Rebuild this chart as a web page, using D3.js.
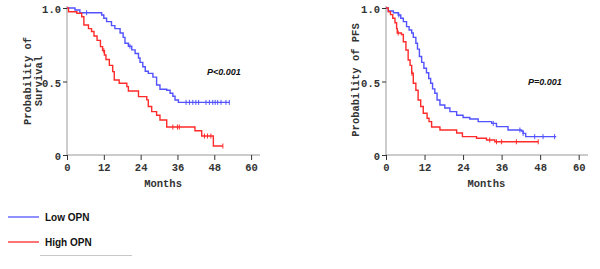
<!DOCTYPE html>
<html>
<head>
<meta charset="utf-8">
<script src="https://cdn.jsdelivr.net/npm/d3@7"></script>
<style>
  body { margin: 0; background: #fff; }
  .mono { font-family: "Liberation Mono", "DejaVu Sans Mono", monospace; font-weight: bold; font-size: 10.5px; fill: #333; }
</style>
</head>
<body>
<div id="chart"></div>
<script>
// Overall survival, low OPN (blue)
const osLowTime = [0, 2.6, 4.2, 11.3, 12.0, 12.9, 14.5, 15.6, 17.3, 18.3, 18.9, 20.0, 21.1, 22.2, 23.3, 23.8, 24.7, 25.5, 26.5, 28.0, 29.2, 30.3, 32.5, 33.6, 34.5, 35.2, 36.3, 52.9];
const osLowSurv = [1.0, 0.986, 0.968, 0.952, 0.93, 0.907, 0.88, 0.86, 0.83, 0.80, 0.76, 0.74, 0.715, 0.69, 0.66, 0.63, 0.60, 0.57, 0.555, 0.53, 0.476, 0.447, 0.44, 0.42, 0.40, 0.374, 0.358, 0.358];
const osLowCens = [6.4, 20.5, 38.8, 39.9, 41, 42, 42.9, 45.3, 46.4, 47.5, 48.3, 49.1, 50.2, 51.8, 52.9];

// Overall survival, high OPN (red)
const osHighTime = [0, 0.5, 3.2, 4.8, 5.5, 7.0, 8.0, 8.8, 9.8, 10.9, 11.6, 12.2, 12.7, 13.8, 14.9, 15.4, 17.0, 19.5, 20.0, 23.3, 26.0, 26.5, 27.6, 29.2, 30.3, 32.5, 41.7, 43.9, 47.7, 50.8];
const osHighSurv = [1.0, 0.975, 0.964, 0.94, 0.884, 0.86, 0.84, 0.81, 0.78, 0.737, 0.71, 0.68, 0.65, 0.61, 0.567, 0.51, 0.488, 0.465, 0.435, 0.397, 0.375, 0.33, 0.295, 0.27, 0.238, 0.19, 0.165, 0.129, 0.061, 0.061];
const osHighCens = [12.0, 34.5, 36.0, 36.6, 44.8, 45.8, 46.9, 50.8];

// Progression-free survival, low OPN (blue)
const pfsLowTime = [0, 0.7, 2.3, 3.8, 4.6, 5.4, 6.4, 7.2, 8.0, 8.5, 9.3, 9.8, 10.4, 11.1, 11.8, 12.6, 13.3, 13.9, 14.5, 15.2, 15.9, 16.8, 18.3, 19.9, 22.0, 24.0, 26.1, 28.7, 32.9, 34.4, 38.0, 42.2, 42.7, 43.5, 53.0];
const pfsLowSurv = [1.0, 0.98, 0.968, 0.952, 0.93, 0.907, 0.873, 0.85, 0.83, 0.80, 0.76, 0.72, 0.67, 0.63, 0.59, 0.56, 0.52, 0.488, 0.45, 0.42, 0.374, 0.34, 0.32, 0.295, 0.27, 0.255, 0.245, 0.227, 0.215, 0.193, 0.17, 0.163, 0.147, 0.125, 0.125];
const pfsLowCens = [4.0, 33.4, 41.7, 42.7, 46.3, 48.9, 52.5];

// Progression-free survival, high OPN (red)
const pfsHighTime = [0, 0.7, 1.4, 2.1, 2.8, 3.3, 3.5, 4.8, 5.4, 6.2, 6.9, 7.5, 8.0, 8.5, 9.3, 10.0, 10.8, 11.6, 12.8, 13.4, 14.2, 16.8, 22.0, 23.8, 28.2, 31.3, 33.9, 47.4];
const pfsHighSurv = [1.0, 0.975, 0.955, 0.93, 0.90, 0.86, 0.83, 0.82, 0.77, 0.714, 0.646, 0.61, 0.556, 0.488, 0.44, 0.374, 0.33, 0.284, 0.25, 0.227, 0.19, 0.17, 0.15, 0.125, 0.114, 0.102, 0.09, 0.09];
const pfsHighCens = [3.8, 8.1, 32.3, 34.4, 36.0, 40.6, 47.4];

const xTicks = [0, 12, 24, 36, 48, 60];
const yTicks = [0, 0.5, 1.0];
const yTickLabels = ["0", "0.5", "1.0"];
const groups = ["Low OPN", "High OPN"];
const colors = ["#5252ff", "#ff2a2a"];

const width = 600, height = 269;

const svg = d3.select("#chart")
    .append("svg")
    .attr("width", width)
    .attr("height", height);

// Draw one Kaplan-Meier panel
function drawPanel(p) {
    const xScale = d3.scaleLinear().domain([0, 62.9]).range([p.left, p.right]);
    const yScale = d3.scaleLinear().domain([0, 1]).range([155, 8]);

    const g = svg.append("g");

    // x axis
    const xAxis = g.append("g")
        .attr("transform", "translate(0,155)")
        .call(d3.axisBottom(xScale).tickValues(xTicks).tickSize(5).tickPadding(4));
    xAxis.select(".domain").attr("stroke", "#999").attr("d", `M${p.left},0H${p.right}`);
    xAxis.selectAll(".tick line").attr("stroke", "#333");
    xAxis.selectAll(".tick text").attr("class", "mono");

    // y axis
    const yAxis = g.append("g")
        .attr("transform", `translate(${p.left},0)`)
        .call(d3.axisLeft(yScale).tickValues(yTicks).tickSize(4).tickPadding(2)
            .tickFormat((d, i) => yTickLabels[i]));
    yAxis.select(".domain").attr("stroke", "#999").attr("d", "M0,155V6");
    yAxis.selectAll(".tick line").attr("stroke", "#333");
    yAxis.selectAll(".tick text").attr("class", "mono").attr("dy", "0.45em");

    // Axis titles
    g.append("text")
        .attr("class", "mono")
        .attr("x", (xScale(0) + xScale(60)) / 2 + 4)
        .attr("y", 187)
        .attr("text-anchor", "middle")
        .text("Months");

    p.yLabel.forEach((line, i) => {
        g.append("text")
            .attr("class", "mono")
            .attr("transform", `translate(${p.yLabelX + i * 11},${p.yLabelY}) rotate(-90)`)
            .attr("text-anchor", "middle")
            .text(line);
    });

    // P value
    g.append("text")
        .attr("x", p.pX)
        .attr("y", p.pY)
        .style("font-family", "Liberation Sans, Arial, sans-serif")
        .style("font-weight", "bold")
        .style("font-style", "italic")
        .style("font-size", "9px")
        .attr("fill", "#111")
        .text(p.pText);

    const line = d3.line()
        .x(d => xScale(d[0]))
        .y(d => yScale(d[1]))
        .curve(d3.curveStepAfter);

    p.series.forEach((s, k) => {
        const pts = s.time.map((t, i) => [t, s.surv[i]]);
        g.append("path")
            .datum(pts)
            .attr("fill", "none")
            .attr("stroke", colors[k])
            .attr("stroke-width", 1.4)
            .attr("d", line);

        // Censor marks
        const stepAt = t => {
            let v = s.surv[0];
            s.time.forEach((tt, i) => { if (tt <= t) v = s.surv[i]; });
            return v;
        };
        g.selectAll(null)
            .data(s.cens)
            .enter()
            .append("line")
            .attr("x1", d => xScale(d))
            .attr("x2", d => xScale(d))
            .attr("y1", d => yScale(stepAt(d)) - 2.5)
            .attr("y2", d => yScale(stepAt(d)) + 2.5)
            .attr("stroke", colors[k])
            .attr("stroke-width", 1);
    });
}

drawPanel({
    left: 67, right: 260,
    yLabel: ["Probability of", "Survival"], yLabelX: 30.5, yLabelY: 81,
    pText: "P<0.001", pX: 207, pY: 75,
    series: [
        { time: osLowTime, surv: osLowSurv, cens: osLowCens },
        { time: osHighTime, surv: osHighSurv, cens: osHighCens }
    ]
});

drawPanel({
    left: 386, right: 588,
    yLabel: ["Probability of PFS"], yLabelX: 358.5, yLabelY: 80,
    pText: "P=0.001", pX: 528, pY: 85,
    series: [
        { time: pfsLowTime, surv: pfsLowSurv, cens: pfsLowCens },
        { time: pfsHighTime, surv: pfsHighSurv, cens: pfsHighCens }
    ]
});

// Legend
const legend = svg.append("g");
groups.forEach((name, i) => {
    const y = 217 + i * 25;
    legend.append("line")
        .attr("x1", 8).attr("x2", 39)
        .attr("y1", y).attr("y2", y)
        .attr("stroke", colors[i])
        .attr("stroke-width", 1.3);
    legend.append("text")
        .attr("x", 45)
        .attr("y", y + 3.5)
        .style("font-family", "Liberation Sans, Arial, sans-serif")
        .style("font-weight", "bold")
        .style("font-size", "10px")
        .attr("fill", "#111")
        .text(name);
});
legend.append("line")
    .attr("x1", 40).attr("x2", 132)
    .attr("y1", 255.5).attr("y2", 255.5)
    .attr("stroke", "#c8c8c8")
    .attr("stroke-width", 1);
</script>
</body>
</html>
